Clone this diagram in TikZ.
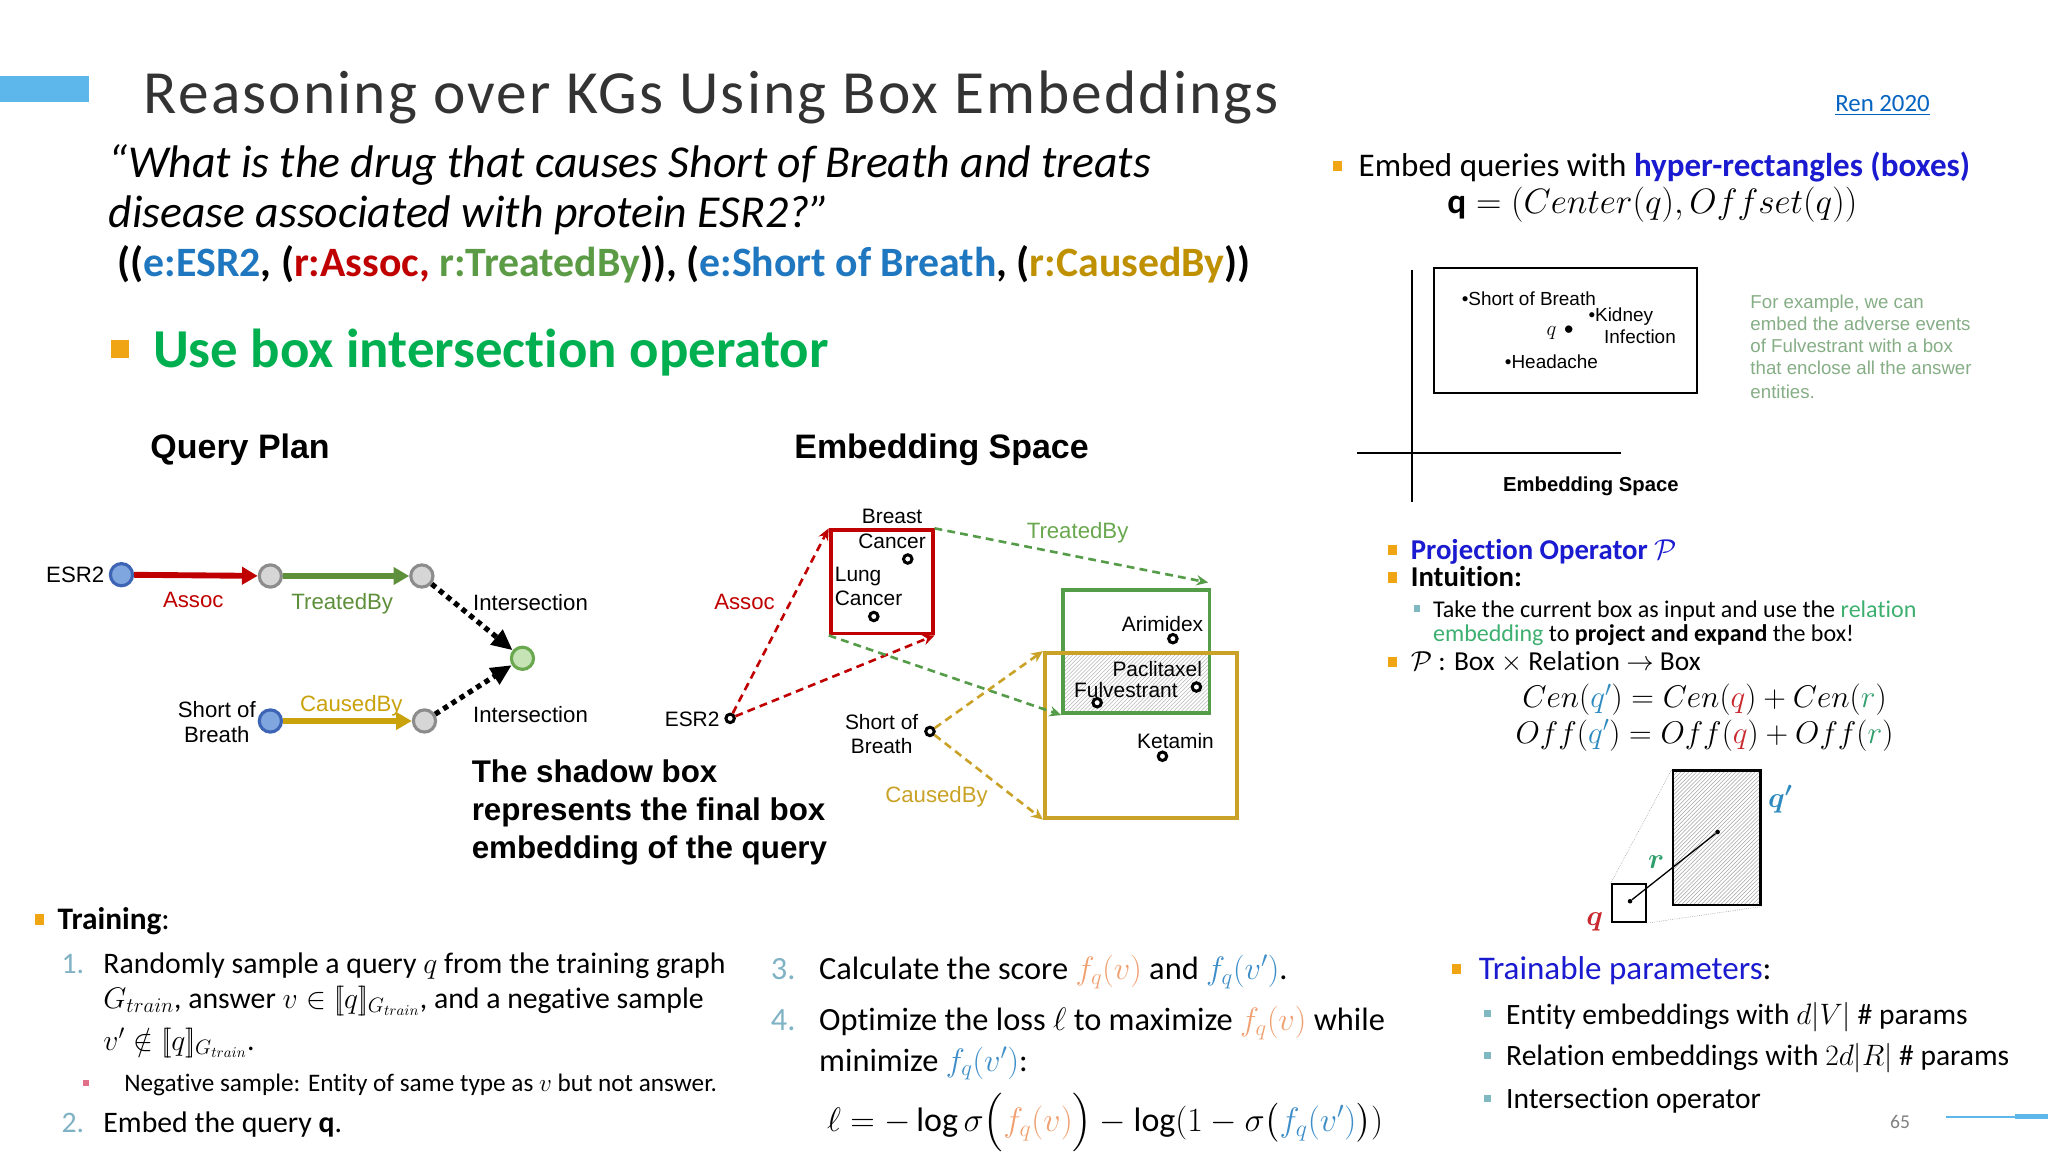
\documentclass[tikz,border=0pt]{standalone}
\usepackage{fix-cm}
\usepackage{amsmath}
\usepackage{fontspec}
\setmainfont{Carlito}[Ligatures=NoCommon]
\newfontfamily\arialfont{Liberation Sans}
\usetikzlibrary{arrows.meta,patterns}

\definecolor{barblue}{HTML}{5DB7EB}
\definecolor{bulorange}{HTML}{EFA514}
\definecolor{ttlgray}{HTML}{333333}
\definecolor{eblue}{HTML}{1F77C0}
\definecolor{rred}{HTML}{C00000}
\definecolor{rgreen}{HTML}{5B9B45}
\definecolor{rgold}{HTML}{BF9000}
\definecolor{opgreen}{HTML}{00B050}
\definecolor{hypblue}{HTML}{1A1AD0}
\definecolor{linkblue}{HTML}{0563C1}
\definecolor{nblue}{HTML}{7FA6DE}
\definecolor{nblueb}{HTML}{3E64B5}
\definecolor{ngray}{HTML}{D6D6D6}
\definecolor{ngrayb}{HTML}{8C8C8C}
\definecolor{ngreen}{HTML}{C5E3B5}
\definecolor{ngreenb}{HTML}{6AA84F}
\definecolor{agreen}{HTML}{5E8F3A}
\definecolor{agold}{HTML}{C9A20C}
\definecolor{bxgreen}{HTML}{559C48}
\definecolor{bxgold}{HTML}{C9A227}
\definecolor{notegreen}{HTML}{86AE86}
\definecolor{relgreen}{HTML}{3DB070}
\definecolor{subteal}{HTML}{7FB8C0}
\definecolor{numteal}{HTML}{7FB2C4}
\definecolor{negpink}{HTML}{E0708A}
\definecolor{fqorange}{HTML}{F0A070}
\definecolor{fqblue}{HTML}{3C8DC8}
\definecolor{qpblue}{HTML}{2E8BC0}
\definecolor{qred}{HTML}{C8282E}
\definecolor{rteal}{HTML}{2E9E6A}

\newcommand{\fs}[1]{\fontsize{#1}{#1}\selectfont}

\begin{document}
\begin{tikzpicture}[x=1pt, y=-1pt, >=stealth,
  txt/.style={anchor=base west, inner sep=0pt},
  lbl/.style={inner sep=0pt, font=\arialfont\fontsize{17}{19.5}\selectfont},
  elbl/.style={inner sep=0pt, font=\arialfont\fontsize{16}{19}\selectfont},
  qn/.style={circle, draw, line width=2.4pt, minimum size=17pt, inner sep=0pt},
  ent/.style={circle, draw, fill=white, line width=2.3pt, minimum size=6.5pt, inner sep=0pt},
  sol/.style={line width=4.5pt, -{Triangle[length=12pt, width=13pt]}},
  dots/.style={line width=4pt, dash pattern=on 4pt off 3.5pt, -{Triangle[length=16pt, width=14pt]}},
  dsh/.style={line width=2pt, dash pattern=on 6pt off 4pt, -{Stealth[length=9pt, width=8pt]}},
  bx/.style={draw, line width=3pt, inner sep=0pt},
  bul/.style={fill=bulorange, inner sep=0pt, minimum width=7pt, minimum height=8pt},
  sbul/.style={fill=subteal, inner sep=0pt, minimum size=5pt}]

  \useasboundingbox (0,0) rectangle (1568,882);
  \fill[white] (0,0) rectangle (1568,882);

  \fill[barblue] (0,58) rectangle (68,78);
  \node[txt, font=\fs{47}\addfontfeatures{LetterSpace=3.5}, text=ttlgray] (title) at (110,87) {Reasoning over KGs Using Box Embeddings};
  \node[txt, font=\fs{19}, text=linkblue] (ref) at (1405,85) {\underline{Ren 2020}};

  \node[txt, font=\itshape\fs{35}] (qline1) at (83,136) {“What is the drug that causes Short of Breath and treats};
  \node[txt, font=\itshape\fs{35}] (qline2) at (83,174) {disease associated with protein ESR2?”};
  \node[txt, font=\bfseries\fs{32}] (qstruct) at (90,212) {((\textcolor{eblue}{e:ESR2}, (\textcolor{rred}{r:Assoc,} \textcolor{rgreen}{r:TreatedBy})), (\textcolor{eblue}{e:Short of Breath}, (\textcolor{rgold}{r:CausedBy}))};

  \node[bul, minimum width=14pt, minimum height=14pt] (b0) at (92,267) {};
  \node[txt, font=\bfseries\fs{42}, text=opgreen] (useop) at (117,281) {Use box intersection operator};
  \node[txt, font=\arialfont\bfseries\fs{26}] (qptitle) at (115,351) {Query Plan};
  \node[txt, font=\arialfont\bfseries\fs{26}] (estitle) at (608,351) {Embedding Space};

  \node[qn, fill=nblue, draw=nblueb] (esr) at (93,440) {};
  \node[qn, fill=ngray, draw=ngrayb] (tb) at (207,441) {};
  \node[qn, fill=ngray, draw=ngrayb] (tbend) at (323,441) {};
  \node[qn, fill=ngreen, draw=ngreenb] (inter) at (400,504) {};
  \node[qn, fill=nblue, draw=nblueb] (sob) at (207,552) {};
  \node[qn, fill=ngray, draw=ngrayb] (cbend) at (325,552) {};
  \draw[sol, rred] (esr) -- (tb);
  \draw[sol, agreen] (tb) -- (tbend);
  \draw[sol, agold] (sob) -- (cbend);
  \draw[dots] (tbend) -- (inter);
  \draw[dots] (cbend) -- (inter);
  \node[lbl, anchor=east] (esrlbl) at (80,440) {ESR2};
  \node[lbl, text=rred] (assoclbl) at (148,459) {Assoc};
  \node[lbl, text=agreen] (tblbl) at (262,462) {TreatedBy};
  \node[lbl, text=agold] (cblbl) at (269,540) {CausedBy};
  \node[lbl, anchor=west] (int1) at (362,461) {Intersection};
  \node[lbl, anchor=west] (int2) at (362,547) {Intersection};
  \node[lbl, align=center] (soblbl) at (166,553) {Short of\\Breath};

  \node[txt, font=\arialfont\bfseries\fs{24}] (sh1) at (361,599) {The shadow box};
  \node[txt, font=\arialfont\bfseries\fs{24}] (sh2) at (361,628) {represents the final box};
  \node[txt, font=\arialfont\bfseries\fs{24}] (sh3) at (361,657) {embedding of the query};

  \fill[pattern=north east lines, pattern color=gray!55] (814,500) rectangle (926,546);
  \node[bx, draw=rred, minimum width=78pt, minimum height=79pt] (cbox) at (675,445.5) {};
  \node[bx, draw=bxgreen, minimum width=112pt, minimum height=94pt] (gbox) at (870,499) {};
  \node[bx, draw=bxgold, minimum width=147pt, minimum height=126pt] (gdbox) at (873.5,563) {};
  \node[ent] (bc) at (695,428) {};
  \node[ent] (lc) at (669,472) {};
  \node[ent] (edot) at (559,550) {};
  \node[ent] (sdot) at (712,560) {};
  \node[ent] (arim) at (898,489) {};
  \node[ent] (pacl) at (916,526) {};
  \node[ent] (fulv) at (840,538) {};
  \node[ent] (keta) at (890,579) {};
  \node[elbl, align=center] (bclbl) at (683,405) {Breast\\Cancer};
  \node[elbl, align=left, anchor=west] (lclbl) at (639,449) {Lung\\Cancer};
  \node[elbl, anchor=east] (edotlbl) at (551,551) {ESR2};
  \node[elbl, align=center] (sdotlbl) at (675,562) {Short of\\Breath};
  \node[elbl] (arimlbl) at (890,478) {Arimidex};
  \node[elbl] (pacllbl) at (886,512) {Paclitaxel};
  \node[elbl] (fulvlbl) at (862,528) {Fulvestrant};
  \node[elbl] (ketalbl) at (900,567) {Ketamin};
  \node[lbl, text=rred] (eassoc) at (570,461) {Assoc};
  \node[lbl, text=ngreenb] (etb) at (825,408) {TreatedBy};
  \node[lbl, text=bxgold] (ecb) at (717,610) {CausedBy};
  \coordinate (gtip) at (925,446);
  \draw[dsh, rred] (edot) -- (cbox.north west);
  \draw[dsh, rred] (edot) -- (cbox.south east);
  \draw[dsh, bxgreen] (cbox.north east) -- (gtip);
  \draw[dsh, bxgreen] (cbox.south west) -- (gbox.south west);
  \draw[dsh, bxgold] (sdot) -- (gdbox.north west);
  \draw[dsh, bxgold] (sdot) -- (gdbox.south west);

  \node[bul] (b1) at (1024,127) {};
  \node[txt, font=\fs{25.3}] (embq) at (1040,135) {Embed queries with \textcolor{hypblue}{\bfseries hyper-rectangles (boxes)}};
  \node[font=\fs{27}, inner sep=0pt] (qdef) at (1265,157) {$\mathbf{q} = (Center(q),Offset(q))$};
  \draw[line width=1.3pt] (1081,207) -- (1081,384);
  \draw[line width=1.3pt] (1039,347) -- (1241,347);
  \node[draw, line width=1.3pt, minimum width=201pt, minimum height=96pt, inner sep=0pt] (ansbox) at (1198.5,253) {};
  \node[txt, font=\arialfont\fs{14.5}] (sobpt) at (1119,234) {•Short of Breath};
  \node[txt, font=\arialfont\fs{14.5}] (kidpt) at (1216,246) {•Kidney};
  \node[txt, font=\arialfont\fs{14.5}] (kidpt2) at (1228,263) {Infection};
  \node[txt, font=\fs{16}] (qpt) at (1184,257) {$q$\,\,•};
  \node[txt, font=\arialfont\fs{14.5}] (headpt) at (1152,282) {•Headache};
  \node[font=\arialfont\bfseries\fs{15.5}, inner sep=0pt] (eslbl) at (1218,372) {Embedding Space};
  \node[txt, font=\arialfont\fs{14.3}, text=notegreen] (note1) at (1340,236) {For example, we can};
  \node[txt, font=\arialfont\fs{14.3}, text=notegreen] (note2) at (1340,253) {embed the adverse events};
  \node[txt, font=\arialfont\fs{14.3}, text=notegreen] (note3) at (1340,270) {of Fulvestrant with a box};
  \node[txt, font=\arialfont\fs{14.3}, text=notegreen] (note4) at (1340,287) {that enclose all the answer};
  \node[txt, font=\arialfont\fs{14.3}, text=notegreen] (note5) at (1340,305) {entities.};

  \node[bul] (b2) at (1066,421) {};
  \node[txt, font=\bfseries\fs{22}, text=hypblue] (proj) at (1080,428) {Projection Operator $\mathcal{P}$};
  \node[bul] (b3) at (1066,442) {};
  \node[txt, font=\bfseries\fs{22}] (intu) at (1080,449) {Intuition:};
  \node[sbul] (s1) at (1085,466) {};
  \node[txt, font=\fs{18.4}] (tk1) at (1097,473) {Take the current box as input and use the \textcolor{relgreen}{relation}};
  \node[txt, font=\fs{18.4}] (tk2) at (1097,491) {\textcolor{relgreen}{embedding} to \textbf{project and expand} the box!};
  \node[bul] (b4) at (1066,507) {};
  \node[txt, font=\fs{21}] (pmap) at (1080,513) {$\mathcal{P}$ : Box $\times$ Relation $\rightarrow$ Box};
  \node[font=\fs{24}, inner sep=0pt] (cen) at (1305,536) {$Cen(\textcolor{qpblue}{q'}) = Cen(\textcolor{qred}{q}) + Cen(\textcolor{rteal}{r})$};
  \node[font=\fs{24}, inner sep=0pt] (off) at (1305,563) {$Off(\textcolor{qpblue}{q'}) = Off(\textcolor{qred}{q}) + Off(\textcolor{rteal}{r})$};

  \node[draw, line width=2pt, pattern=north east lines, pattern color=gray!70, minimum width=67pt, minimum height=103pt, inner sep=0pt] (qpbox) at (1314.5,641.5) {};
  \node[draw, line width=1.6pt, fill=white, minimum width=26pt, minimum height=29pt, inner sep=0pt] (qbox) at (1247,691.5) {};
  \draw[densely dotted, gray] (qbox.north west) -- (qpbox.north west);
  \draw[densely dotted, gray] (qbox.south east) -- (qpbox.south east);
  \node[circle, fill, inner sep=0pt, minimum size=3.5pt] (qc) at (1248,690) {};
  \node[circle, fill, inner sep=0pt, minimum size=3.5pt] (qpc) at (1315,637) {};
  \draw[line width=1pt] (qc) -- (qpc);
  \node[font=\fs{22}, text=qred, inner sep=0pt] (qlbl) at (1221,706) {$\boldsymbol{q}$};
  \node[font=\fs{22}, text=qpblue, inner sep=0pt] (qplbl) at (1363,612) {$\boldsymbol{q'}$};
  \node[font=\fs{22}, text=rteal, inner sep=0pt] (rlbl) at (1268,660) {$\boldsymbol{r}$};

  \node[bul] (b5) at (30,704) {};
  \node[txt, font=\fs{24}] (train) at (44,712) {\textbf{Training}:};
  \node[txt, font=\fs{22.8}, text=numteal] (num1) at (47,745) {1.};
  \node[txt, font=\fs{22.8}] (t1) at (79,745) {Randomly sample a query $q$ from the training graph};
  \node[txt, font=\fs{22.8}] (t1b) at (79,772) {$G_{train}$, answer $v \in [\![q]\!]_{G_{train}}$, and a negative sample};
  \node[txt, font=\fs{22.8}] (t1c) at (79,804) {$v' \notin [\![q]\!]_{G_{train}}$.};
  \node[fill=negpink, inner sep=0pt, minimum size=5pt] (pb) at (66,829) {};
  \node[txt, font=\fs{19.3}] (neg) at (95,836) {Negative sample: Entity of same type as $v$ but not answer.};
  \node[txt, font=\fs{22.8}, text=numteal] (num2) at (47,867) {2.};
  \node[txt, font=\fs{22.8}] (t2) at (79,867) {Embed the query $\mathbf{q}$.};

  \node[txt, font=\fs{24.8}, text=numteal] (num3) at (590,750) {3.};
  \node[txt, font=\fs{24.8}] (t3) at (627,750) {Calculate the score $\textcolor{fqorange}{f_q(v)}$ and $\textcolor{fqblue}{f_q(v')}$.};
  \node[txt, font=\fs{24.8}, text=numteal] (num4) at (590,789) {4.};
  \node[txt, font=\fs{24.8}] (t4) at (627,789) {Optimize the loss $\ell$ to maximize $\textcolor{fqorange}{f_q(v)}$ while};
  \node[txt, font=\fs{24.8}] (t4b) at (627,820) {minimize $\textcolor{fqblue}{f_q(v')}$:};
  \node[txt, font=\fs{26}] (loss) at (633,866) {$\ell = -\log\sigma\Big(\textcolor{fqorange}{f_q(v)}\Big) - \log(1-\sigma\big(\textcolor{fqblue}{f_q(v')}\big))$};

  \node[bul] (b6) at (1115,742) {};
  \node[txt, font=\fs{25.3}] (tp) at (1132,750) {\textcolor{hypblue}{Trainable parameters}:};
  \node[sbul] (s2) at (1139,776) {};
  \node[txt, font=\fs{22.6}] (tp1) at (1153,784) {Entity embeddings with $d|V|$ \# params};
  \node[sbul] (s3) at (1139,808) {};
  \node[txt, font=\fs{22.6}] (tp2) at (1153,816) {Relation embeddings with $2d|R|$ \# params};
  \node[sbul] (s4) at (1139,841) {};
  \node[txt, font=\fs{22.6}] (tp3) at (1153,849) {Intersection operator};

  \begin{scope}
    \clip (1440,851) rectangle (1480,882);
    \node[txt, font=\fs{15}, text=gray] (pgno) at (1447,864) {65};
  \end{scope}
  \draw[barblue, line width=1.5pt] (1490,855) -- (1568,855);
  \fill[barblue] (1543,853) rectangle (1568,857);
\end{tikzpicture}
\end{document}
